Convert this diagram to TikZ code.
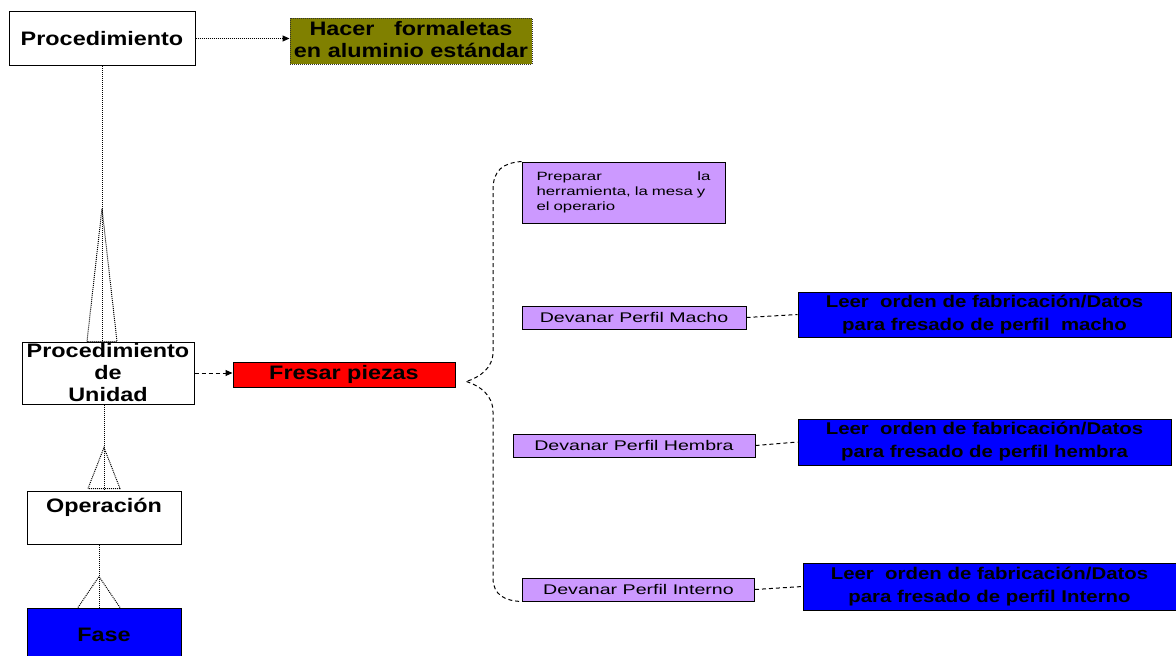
\documentclass[tikz,border=0pt]{standalone}
\usepackage{fontspec}
\setmainfont{Liberation Sans}
\newfontfamily\bfw[FakeStretch=1.2]{Liberation Sans}
\newfontfamily\rgw[FakeStretch=1.4]{Liberation Sans}
\usetikzlibrary{arrows.meta,calc}
\definecolor{olivebox}{HTML}{808000}
\definecolor{redbox}{HTML}{FF0000}
\definecolor{bluebox}{HTML}{0000FF}
\definecolor{lilacbox}{HTML}{CC99FF}
\tikzset{
  box/.style={draw=black, line width=1pt, inner sep=0pt, align=center},
  bigtxt/.style={font=\bfw\bfseries\fontsize{19.5}{22}\selectfont},
  bluetxt/.style={font=\bfw\bfseries\fontsize{17}{23}\selectfont},
  smalltxt/.style={font=\rgw\fontsize{14}{16}\selectfont},
  preptxt/.style={font=\rgw\fontsize{12}{15}\selectfont},
  dotline/.style={line width=1pt, dash pattern=on 1pt off 1pt},
  dashline/.style={line width=1pt, dash pattern=on 4pt off 3pt},
  tip/.style={-{Triangle[length=7pt,width=6pt]}},
}
\begin{document}
\begin{tikzpicture}[x=1pt,y=-1pt]
\clip (0,0) rectangle (1176,656);
\fill[white] (0,0) rectangle (1176,656);

% left column: hierarchy of levels
\node[box, bigtxt, fill=white, minimum width=186pt, minimum height=54pt] (proc) at (102,38.5) {Procedimiento};
\node[box, bigtxt, fill=olivebox, draw=black!80, dotline, minimum width=242pt, minimum height=46pt] (hacer) at (411,41)
  {Hacer\ \ \ formaletas\\en aluminio estándar\rule[-3pt]{0pt}{1pt}};
\node[box, bigtxt, fill=white, minimum width=172pt, minimum height=62pt] (pu) at (108,373)
  {Procedimiento\\de\\Unidad};
\node[box, bigtxt, fill=redbox, minimum width=222pt, minimum height=25pt] (fresar) at (344,374.5) {Fresar piezas};
\node[box, bigtxt, fill=white, minimum width=154pt, minimum height=53pt, text height=14pt, text depth=24pt] (op) at (104,517.5) {Operación};
\node[box, bigtxt, fill=bluebox, minimum width=154pt, minimum height=50pt, text height=18pt] (fase) at (104,633) {Fase};

% operations of the unit procedure
\node[box, fill=lilacbox, minimum width=203pt, minimum height=61pt] (prep) at (623.5,192.5) {};
\node[preptxt, text width=174pt, align=left, inner sep=0pt] (preptext) at (prep.center)
  {Preparar\hfill la\\herramienta, la mesa y\\el operario};
\node[box, smalltxt, fill=lilacbox, minimum width=224pt, minimum height=23pt] (macho) at (634,317.5) {Devanar Perfil Macho};
\node[box, smalltxt, fill=lilacbox, minimum width=242pt, minimum height=23pt] (hembra) at (634,445.5) {Devanar Perfil Hembra};
\node[box, smalltxt, fill=lilacbox, minimum width=232pt, minimum height=23pt] (interno) at (638.5,589.5) {Devanar Perfil Interno};

% phases
\node[box, bluetxt, fill=bluebox, minimum width=373pt, minimum height=45pt] (bmacho) at (984.5,314.5)
  {Leer\ \ orden de fabricación/Datos\\para fresado de perfil\ \ macho};
\node[box, bluetxt, fill=bluebox, minimum width=373pt, minimum height=46pt] (bhembra) at (984.5,442)
  {Leer\ \ orden de fabricación/Datos\\para fresado de perfil hembra};
\node[box, bluetxt, fill=bluebox, minimum width=373pt, minimum height=47pt] (binterno) at (989.5,586.5)
  {Leer\ \ orden de fabricación/Datos\\para fresado de perfil Interno};

% connectors
\draw[dotline, tip] (proc.east) -- (proc.east -| hacer.west);
\draw[dashline, tip] (pu.east) -- (pu.east -| fresar.west);

\draw[dotline] (proc.south) -- (proc.south |- pu.north);
\draw[dotline] ($(proc.south |- pu.north)+(-15,0)$) -- ($(proc.south |- pu.north)+(0,-133)$)
  -- ($(proc.south |- pu.north)+(15,0)$) -- cycle;

\draw[dotline] (op.north |- pu.south) -- (op.north);
\draw[dotline] ($(op.north)+(-16,-2)$) -- ($(op.north)+(0,-43)$) -- ($(op.north)+(16,-2)$) -- cycle;

\draw[dotline] ($(op.south)+(-5,0)$) -- ($(fase.north)+(-5,0)$);
\draw[dotline] ($(fase.north)+(-26,0)$) -- ($(fase.north)+(-5,-31)$) -- ($(fase.north)+(16,0)$);

% brace grouping the operations
\coordinate (bracetip) at ($(fresar.east)+(11,7)$);
\draw[dashline] (prep.north west) .. controls (503,163) and (493,170) .. (493,190)
  -- (493,352) .. controls (493,368) and (480,377) .. (bracetip);
\draw[dashline] (bracetip) .. controls (480,386) and (493,395) .. (493,412)
  -- (493,578) .. controls (493,595) and (505,601) .. (interno.south west);

\draw[dashline] (macho.east) -- (bmacho.west);
\draw[dashline] (hembra.east) -- (bhembra.west);
\draw[dashline] (interno.east) -- (binterno.west);
\end{tikzpicture}
\end{document}
